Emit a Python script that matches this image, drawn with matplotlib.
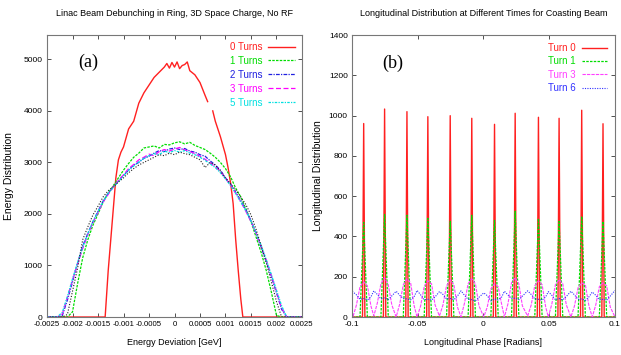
import numpy as np
import matplotlib
matplotlib.use("Agg")
import matplotlib.pyplot as plt

plt.rcParams['font.family'] = ['Liberation Sans', 'DejaVu Sans']

# ---- panel (a): energy distribution ----
energy_dev = np.linspace(-0.0025, 0.0025, 51)

red_x = [-0.0025, -0.0014, -0.00136, -0.0013, -0.00125, -0.0012, -0.00115, -0.0011, -0.00105,
         -0.001, -0.0009, -0.0008, -0.0007, -0.0006, -0.0005, -0.0004, -0.0003, -0.0002,
         -0.00015, -0.0001, -0.00005, 0.0, 0.00005, 0.0001, 0.00015, 0.0002, 0.00025, 0.0003,
         0.0004, 0.0005, 0.0006, 0.00065, 0.0007, 0.00075, 0.0008, 0.0009, 0.001, 0.00105,
         0.0011, 0.00115, 0.0012, 0.00125, 0.0013, 0.00134, 0.0025]
red_y = [0, 0, 0, 900, 1500, 2100, 2700, 3050, 3200,
         3300, 3650, 3800, 4150, 4350, 4500, 4650, 4750, 4850,
         4920, 4830, 4940, 4850, 4950, 4820, 4880, 4900, 4950, 4780,
         4700, 4550, 4300, 4180, np.nan, 4000, 3800, 3500, 3150, 2900,
         2600, 2200, 1500, 900, 350, 0, 0]

turns1 = [0, 0, 0, 0, 0,
          100, 650, 1150, 1500, 1780, 2000, 2230, 2400, 2550, 2700, 2850, 2980, 3100, 3180,
          3280, 3300, 3320, 3280, 3350, 3340, 3380, 3400, 3360, 3390, 3330, 3290, 3250, 3180,
          3100, 3000, 2880, 2720, 2500, 2330, 2100, 1850, 1550, 1250, 900, 480, 30,
          0, 0, 0, 0, 0]
turns2 = [0, 0, 0,
          30, 330, 680, 1050, 1380, 1620, 1850, 2050, 2250, 2400, 2520, 2640, 2750, 2850, 2950,
          3000, 3080, 3120, 3180, 3230, 3210, 3260, 3280, 3250, 3270, 3220, 3200, 3150, 3120,
          3030, 2950, 2850, 2700, 2580, 2420, 2260, 2080, 1870, 1620, 1350, 1080, 780, 470, 150,
          0, 0, 0, 0]
turns3 = [0, 0, 0,
          60, 380, 720, 1030, 1330, 1600, 1830, 2030, 2230, 2380, 2530, 2650, 2760, 2880, 2960,
          3050, 3100, 3160, 3130, 3210, 3250, 3220, 3260, 3290, 3240, 3210, 3170, 3120, 3060,
          2990, 2920, 2820, 2690, 2560, 2400, 2240, 2050, 1850, 1630, 1370, 1100, 800, 500, 180,
          0, 0, 0, 0]
turns5 = [0, 0, 0,
          90, 400, 740, 1060, 1350, 1620, 1850, 2050, 2240, 2400, 2520, 2630, 2740, 2850, 2930,
          3010, 3080, 3130, 3170, 3150, 3220, 3190, 3230, 3200, 3230, 3180, 3150, 3100, 3040,
          2970, 2900, 2800, 2680, 2550, 2400, 2230, 2060, 1860, 1640, 1390, 1110, 820, 520, 220,
          0, 0, 0, 0]
turns_black = [0, 0, 0, 0,
               50, 500, 950, 1500, 1750, 1980, 2150, 2330, 2450, 2530, 2620, 2700, 2800, 2880,
               2950, 3000, 3050, 3100, 3150, 3130, 3180, 3150, 3200, 3170, 3150, 3100, 3050, 2900,
               3000, 2950, 2830, 2700, 2580, 2470, 2330, 2180, 1980, 1700, 1380, 1050, 680, 300,
               0, 0, 0, 0, 0]

energy_ticks = [-0.0025, -0.002, -0.0015, -0.001, -0.0005, 0, 0.0005, 0.001, 0.0015, 0.002, 0.0025]
energy_tick_labels = ['-0.0025', '-0.002', '-0.0015', '-0.001', '-0.0005', '0',
                      '0.0005', '0.001', '0.0015', '0.002', '0.0025']

# ---- panel (b): longitudinal distribution ----
spike_centers = [-0.0911, -0.0752, -0.0582, -0.0423, -0.0253, -0.0089,
                 0.0084, 0.0241, 0.0418, 0.0575, 0.0747, 0.0909]
turn0_peaks = [961, 1033, 1020, 995, 1000, 987, 957, 1012, 992, 987, 1027, 960]
turn1_peaks = [470, 510, 505, 490, 475, 505, 480, 525, 490, 475, 500, 475]
# values around each spike at offsets -0.0082, -0.0055, -0.0028, 0, 0.0028, 0.0055
hump_offsets = [-0.0082, -0.0055, -0.0028, 0.0, 0.0028, 0.0055]
turn3_humps = [[0, 60, 150, 175, 155, 55],
               [5, 70, 165, 195, 160, 60],
               [0, 65, 160, 190, 170, 55],
               [0, 55, 150, 180, 165, 60],
               [5, 60, 155, 185, 160, 50],
               [0, 70, 165, 190, 165, 55],
               [0, 50, 140, 165, 150, 60],
               [0, 65, 170, 195, 165, 55],
               [5, 60, 155, 180, 160, 50],
               [0, 65, 160, 185, 165, 60],
               [0, 55, 145, 170, 160, 55],
               [0, 60, 150, 170, 155, 50]]
turn6_waves = [[125, 110, 88, 92, 84, 100],
               [130, 112, 90, 95, 86, 105],
               [128, 108, 92, 90, 85, 102],
               [132, 110, 86, 88, 84, 100],
               [126, 112, 90, 92, 86, 104],
               [130, 108, 88, 86, 80, 98],
               [120, 106, 80, 90, 85, 100],
               [128, 110, 92, 94, 86, 104],
               [130, 112, 90, 88, 84, 100],
               [126, 108, 86, 92, 85, 102],
               [128, 110, 88, 90, 82, 100],
               [124, 108, 86, 88, 84, 104]]
turn3_start, turn3_end = 40, 0
turn6_start, turn6_end = 125, 132


def spikes(centers, peaks, half):
    xs, ys = [-0.1], [0]
    for c, h in zip(centers, peaks):
        xs += [c - half, c, c + half]
        ys += [0, h, 0]
    xs.append(0.1)
    ys.append(0)
    return xs, ys


def waves(centers, rows, start, end):
    xs, ys = [-0.1], [start]
    for c, row in zip(centers, rows):
        for off, v in zip(hump_offsets, row):
            xs.append(c + off)
            ys.append(v)
    xs.append(0.1)
    ys.append(end)
    return xs, ys


fig = plt.figure(figsize=(6.21, 3.55), dpi=100)
ax1 = fig.add_axes([0.0757, 0.107, 0.4106, 0.794])
ax2 = fig.add_axes([0.5668, 0.107, 0.4235, 0.794])

ax1.plot(red_x, red_y, color='#ff2020', lw=1.0, label='0 Turns')
ax1.plot(energy_dev, turns1, color='#00dd00', lw=0.9, ls=(0, (2, 1)), label='1 Turns')
ax1.plot(energy_dev, turns2, color='#2020e0', lw=0.9, ls=(0, (3, 1, 1, 1)), label='2 Turns')
ax1.plot(energy_dev, turns3, color='#ff00ff', lw=0.9, ls=(0, (4, 2)), label='3 Turns')
ax1.plot(energy_dev, turns5, color='#00e0e0', lw=0.9, ls=(0, (2, 1, 1, 1)), label='5 Turns')
ax1.plot(energy_dev, turns_black, color='#202020', lw=0.8, ls=(0, (1, 1.5)), label='_nolegend_')

ax1.set_xlim(-0.0025, 0.0025)
ax1.set_ylim(0, 5470)
ax1.set_xticks(energy_ticks)
ax1.set_xticklabels(energy_tick_labels, fontsize=5.6)
ax1.set_yticks([0, 1000, 2000, 3000, 4000, 5000])
ax1.set_title('Linac Beam Debunching in Ring, 3D Space Charge, No RF', fontsize=6.5, pad=14)
ax1.set_xlabel('Energy Deviation [GeV]', fontsize=6.5, labelpad=7)
ax1.set_ylabel('Energy Distribution', fontsize=7.5, labelpad=7)
ax1.text(0.16, 0.905, '(a)', transform=ax1.transAxes, fontsize=13,
         family=['Liberation Serif', 'DejaVu Serif'], ha='center', va='center')
ax1.legend(loc='upper right', frameon=False, markerfirst=False, labelcolor='linecolor',
           fontsize=7, handlelength=2.8, handletextpad=0.6, labelspacing=0.4,
           borderaxespad=0.3)

rx, ry = spikes(spike_centers, turn0_peaks, 0.0009)
gx, gy = spikes(spike_centers, turn1_peaks, 0.0028)
mx, my = waves(spike_centers, turn3_humps, turn3_start, turn3_end)
bx, by = waves(spike_centers, turn6_waves, turn6_start, turn6_end)

ax2.plot(rx, ry, color='#ff2020', lw=1.0, label='Turn 0')
ax2.plot(gx, gy, color='#00dd00', lw=0.9, ls=(0, (2, 1)), label='Turn 1')
ax2.plot(mx, my, color='#ff40ff', lw=0.8, ls=(0, (3, 1)), label='Turn 3')
ax2.plot(bx, by, color='#3030ff', lw=0.8, ls=(0, (1, 1.2)), label='Turn 6')

ax2.set_xlim(-0.1, 0.1)
ax2.set_ylim(0, 1400)
ax2.set_xticks([-0.1, -0.05, 0, 0.05, 0.1])
ax2.set_xticklabels(['-0.1', '-0.05', '0', '0.05', '0.1'])
ax2.set_yticks([0, 200, 400, 600, 800, 1000, 1200, 1400])
ax2.set_title('Longitudinal Distribution at Different Times for Coasting Beam', fontsize=6.5, pad=14)
ax2.set_xlabel('Longitudinal Phase [Radians]', fontsize=6.5, labelpad=7)
ax2.set_ylabel('Longitudinal Distribution', fontsize=7.5, labelpad=4)
ax2.text(0.154, 0.90, '(b)', transform=ax2.transAxes, fontsize=13,
         family=['Liberation Serif', 'DejaVu Serif'], ha='center', va='center')
ax2.legend(loc='upper right', frameon=False, markerfirst=False, labelcolor='linecolor',
           fontsize=7, handlelength=2.6, handletextpad=0.6, labelspacing=0.35,
           borderaxespad=0.4)

for ax in (ax1, ax2):
    ax.tick_params(direction='in', length=3, width=0.6, top=True, right=True,
                   labelsize=6, pad=3, color='#333333')
    for s in ax.spines.values():
        s.set_color('#777777')
        s.set_linewidth(0.8)
ax1.tick_params(axis='x', labelsize=5.6)

fig.savefig('out.png', dpi=100)
